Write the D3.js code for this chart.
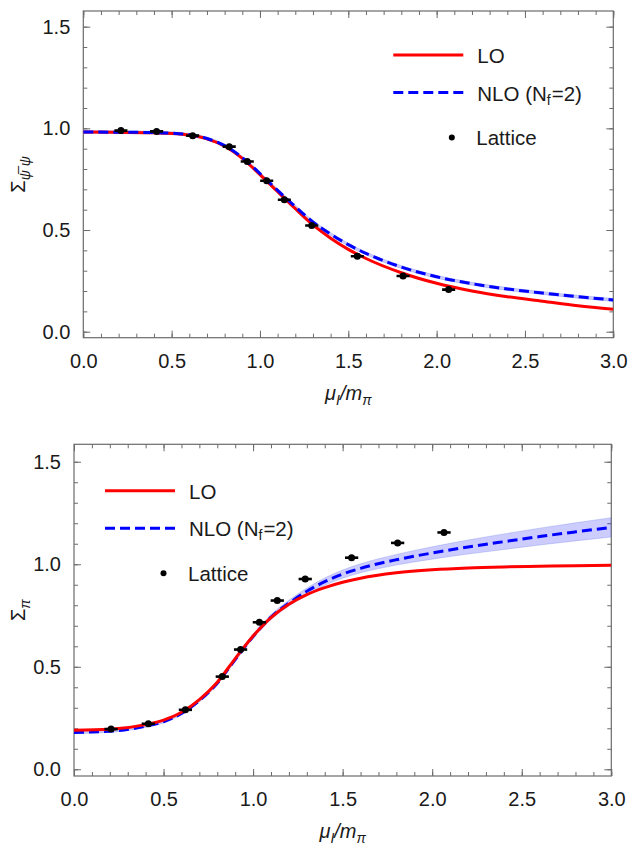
<!DOCTYPE html>
<html>
<head>
<meta charset="utf-8">
<script src="https://cdn.jsdelivr.net/npm/d3@7"></script>
<style>
  body { margin: 0; background: #fff; }
  svg text { font-family: "Liberation Sans", Arial, sans-serif; }
</style>
</head>
<body>
<svg id="chart" width="628" height="845"></svg>
<script>
// shared mu_I / m_pi grid for the curves
const muGrid = [0, 0.2, 0.4, 0.5, 0.6, 0.7, 0.8, 0.9, 1.0, 1.1, 1.2, 1.3, 1.4, 1.5, 1.6, 1.8, 2.0, 2.2, 2.4, 2.6, 2.8, 3.0];

// top panel: chiral condensate
const condLO  = [0.982, 0.981, 0.978, 0.975, 0.967, 0.948, 0.912, 0.852, 0.772, 0.688, 0.605, 0.525, 0.46, 0.405, 0.36, 0.29, 0.238, 0.2, 0.172, 0.15, 0.128, 0.11];
const condNLO = [0.982, 0.981, 0.979, 0.976, 0.968, 0.95, 0.915, 0.856, 0.778, 0.695, 0.615, 0.54, 0.48, 0.428, 0.385, 0.318, 0.27, 0.236, 0.21, 0.19, 0.172, 0.156];
const condBandLow  = [0.975, 0.974, 0.972, 0.969, 0.961, 0.943, 0.908, 0.849, 0.771, 0.688, 0.608, 0.533, 0.473, 0.421, 0.378, 0.311, 0.263, 0.229, 0.203, 0.183, 0.165, 0.149];
const condBandHigh = [0.989, 0.988, 0.986, 0.983, 0.975, 0.957, 0.922, 0.863, 0.785, 0.702, 0.622, 0.547, 0.487, 0.435, 0.392, 0.325, 0.277, 0.243, 0.217, 0.197, 0.179, 0.163];
const condLatX = [0.213, 0.415, 0.619, 0.826, 0.928, 1.038, 1.138, 1.293, 1.551, 1.81, 2.068];
const condLatY = [0.989, 0.985, 0.964, 0.91, 0.837, 0.742, 0.649, 0.522, 0.371, 0.274, 0.207];

// bottom panel: pion condensate
const pionLO  = [0.19, 0.195, 0.218, 0.24, 0.278, 0.34, 0.425, 0.54, 0.65, 0.74, 0.805, 0.852, 0.886, 0.912, 0.932, 0.958, 0.973, 0.982, 0.987, 0.99, 0.993, 0.995];
const pionNLO = [0.18, 0.186, 0.21, 0.232, 0.272, 0.335, 0.42, 0.535, 0.648, 0.742, 0.81, 0.868, 0.915, 0.952, 0.98, 1.022, 1.055, 1.084, 1.11, 1.135, 1.158, 1.18];
const pionBandLow  = [0.174, 0.18, 0.204, 0.226, 0.266, 0.328, 0.412, 0.526, 0.638, 0.73, 0.796, 0.852, 0.897, 0.932, 0.958, 0.996, 1.025, 1.05, 1.072, 1.094, 1.114, 1.133];
const pionBandHigh = [0.186, 0.192, 0.216, 0.238, 0.278, 0.342, 0.428, 0.544, 0.658, 0.754, 0.824, 0.884, 0.933, 0.972, 1.002, 1.048, 1.085, 1.118, 1.148, 1.176, 1.202, 1.227];
const pionLatX = [0.207, 0.415, 0.622, 0.828, 0.93, 1.035, 1.135, 1.291, 1.55, 1.807, 2.066];
const pionLatY = [0.196, 0.222, 0.29, 0.452, 0.584, 0.717, 0.823, 0.928, 1.032, 1.104, 1.155];

const latXErr = 0.037;
const latYErr = 0.006;

const majorX = [0, 0.5, 1.0, 1.5, 2.0, 2.5, 3.0];
const majorY = [0, 0.5, 1.0, 1.5];
const minorX = d3.range(0, 31).map(i => i / 10);
const minorY = d3.range(0, 16).map(i => i / 10);

const svg = d3.select("#chart");
const fmt = d3.format(".1f");
const frameColor = "#6b6b6b";

function drawPanel(cfg) {
    const x = d3.scaleLinear().domain([0, 3]).range([cfg.left, cfg.right]);
    const y = d3.scaleLinear().domain(cfg.yDomain).range([cfg.bottom, cfg.top]);
    const g = svg.append("g");

    // axes (ticks pointing inward, mirrored on top/right)
    const makers = [d3.axisBottom, d3.axisTop, d3.axisLeft, d3.axisRight];
    const moves = [`translate(0,${cfg.bottom})`, `translate(0,${cfg.top})`,
                   `translate(${cfg.left},0)`, `translate(${cfg.right},0)`];
    makers.forEach((make, i) => {
        const isX = i < 2;
        const labels = i === 0 || i === 2;
        const sc = isX ? x : y;
        // minor ticks
        const gm = g.append("g").attr("transform", moves[i])
            .call(make(sc).tickValues(isX ? minorX : minorY).tickSize(-4).tickFormat(""));
        gm.select(".domain").remove();
        gm.selectAll("line").attr("stroke", frameColor);
        // major ticks
        const ga = g.append("g").attr("transform", moves[i])
            .call(make(sc).tickValues(isX ? majorX : majorY).tickSizeInner(-7).tickSizeOuter(0)
                .tickPadding(isX ? 16 : 13).tickFormat(labels ? fmt : ""));
        ga.select(".domain").remove();
        ga.selectAll("line").attr("stroke", frameColor);
        ga.selectAll("text").attr("font-size", 20).attr("fill", "#1a1a1a")
            .attr("font-family", "Liberation Sans, Arial, sans-serif");
    });

    g.append("rect")
        .attr("x", cfg.left).attr("y", cfg.top)
        .attr("width", cfg.right - cfg.left).attr("height", cfg.bottom - cfg.top)
        .attr("fill", "none").attr("stroke", frameColor).attr("stroke-width", 1.2);

    const clipId = "clip" + cfg.id;
    svg.append("clipPath").attr("id", clipId).append("rect")
        .attr("x", cfg.left).attr("y", cfg.top)
        .attr("width", cfg.right - cfg.left).attr("height", cfg.bottom - cfg.top);
    const plot = g.append("g").attr("clip-path", `url(#${clipId})`);

    // NLO uncertainty band
    const area = d3.area()
        .x((d, i) => x(muGrid[i]))
        .y0((d, i) => y(cfg.bandLow[i]))
        .y1((d, i) => y(cfg.bandHigh[i]))
        .curve(d3.curveMonotoneX);
    plot.append("path").datum(cfg.bandLow).attr("d", area)
        .attr("fill", "#0000ff").attr("fill-opacity", 0.2)
        .attr("stroke", "#6070e0").attr("stroke-opacity", 0.35).attr("stroke-width", 0.8);

    const line = vals => d3.line()
        .x((d, i) => x(muGrid[i]))
        .y(d => y(d))
        .curve(d3.curveMonotoneX)(vals);

    const drawLO = () => plot.append("path").attr("d", line(cfg.lo))
        .attr("fill", "none").attr("stroke", "#ff0000").attr("stroke-width", 3);
    const drawNLO = () => plot.append("path").attr("d", line(cfg.nlo))
        .attr("fill", "none").attr("stroke", "#0000ff").attr("stroke-width", 3)
        .attr("stroke-dasharray", "10,5");
    if (cfg.redOnTop) { drawNLO(); drawLO(); } else { drawLO(); drawNLO(); }

    // lattice points with error bars
    const pts = plot.append("g").selectAll("g")
        .data(cfg.latX.map((v, i) => ({ x: v, y: cfg.latY[i] })))
        .enter().append("g");
    pts.append("line")
        .attr("x1", d => x(d.x - latXErr)).attr("x2", d => x(d.x + latXErr))
        .attr("y1", d => y(d.y)).attr("y2", d => y(d.y))
        .attr("stroke", "#000").attr("stroke-width", 2.6);
    pts.append("line")
        .attr("x1", d => x(d.x)).attr("x2", d => x(d.x))
        .attr("y1", d => y(d.y - latYErr)).attr("y2", d => y(d.y + latYErr))
        .attr("stroke", "#000").attr("stroke-width", 2);
    pts.append("circle")
        .attr("cx", d => x(d.x)).attr("cy", d => y(d.y)).attr("r", 3.5)
        .attr("fill", "#000");

    // x axis title
    const xt = g.append("text")
        .attr("x", (cfg.left + cfg.right) / 2).attr("y", cfg.bottom + 62)
        .attr("text-anchor", "middle").attr("font-size", 20).attr("font-style", "italic")
        .attr("fill", "#1a1a1a");
    xt.append("tspan").text("μ");
    xt.append("tspan").attr("font-size", 14).attr("dy", 5).text("I");
    xt.append("tspan").attr("dy", -5).text("/m");
    xt.append("tspan").attr("font-size", 14).attr("dy", 5).text("π");

    // y axis title (rotated)
    const yt = g.append("text")
        .attr("transform", `translate(25,${(cfg.top + cfg.bottom) / 2}) rotate(-90)`)
        .attr("text-anchor", "middle").attr("font-size", 20).attr("fill", "#1a1a1a");
    yt.append("tspan").text("Σ");
    yt.append("tspan").attr("font-size", 14).attr("font-style", "italic").attr("dy", 5).text(cfg.ySub);

    // legend
    const lg = g.append("g").attr("transform", `translate(${cfg.legX},${cfg.legY})`);
    lg.append("line").attr("x1", 0).attr("x2", 70).attr("y1", 0).attr("y2", 0)
        .attr("stroke", "#ff0000").attr("stroke-width", 3);
    lg.append("text").attr("x", 84).attr("y", 8).attr("font-size", 20.5).attr("fill", "#1a1a1a").text("LO");
    lg.append("line").attr("x1", 0).attr("x2", 70).attr("y1", 37.5).attr("y2", 37.5)
        .attr("stroke", "#0000ff").attr("stroke-width", 3).attr("stroke-dasharray", "10,5");
    const nt = lg.append("text").attr("x", 84).attr("y", 45.5).attr("font-size", 20.5).attr("fill", "#1a1a1a");
    nt.append("tspan").text("NLO (N");
    nt.append("tspan").attr("font-size", 14).attr("dy", 4).text("f");
    nt.append("tspan").attr("dx", 1).attr("dy", -4).text("=2)");
    lg.append("circle").attr("cx", 58.5).attr("cy", 82.5).attr("r", 3).attr("fill", "#000");
    lg.append("text").attr("x", 83).attr("y", 90).attr("font-size", 20.5).attr("fill", "#1a1a1a").text("Lattice");
}

drawPanel({
    id: "top", left: 83.3, right: 613.3, top: 11, bottom: 337.7,
    yDomain: [-0.0295, 1.577],
    lo: condLO, nlo: condNLO, bandLow: condBandLow, bandHigh: condBandHigh,
    latX: condLatX, latY: condLatY, redOnTop: false,
    ySub: "ψ̅ ψ", legX: 393.3, legY: 55
});

drawPanel({
    id: "bot", left: 74, right: 611.3, top: 444.3, bottom: 776,
    yDomain: [-0.0327, 1.585],
    lo: pionLO, nlo: pionNLO, bandLow: pionBandLow, bandHigh: pionBandHigh,
    latX: pionLatX, latY: pionLatY, redOnTop: true,
    ySub: "π", legX: 105, legY: 490.7
});
</script>
</body>
</html>
